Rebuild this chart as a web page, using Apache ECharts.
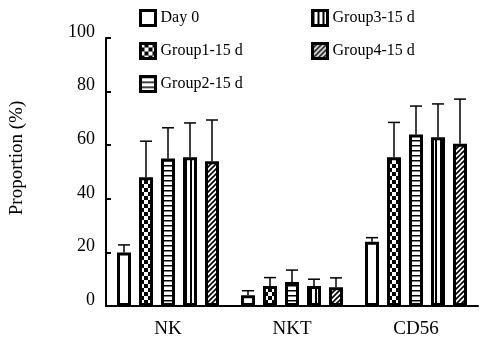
<!DOCTYPE html>
<html><head><meta charset="utf-8">
<script src="https://cdn.jsdelivr.net/npm/echarts@6/dist/echarts.min.js"></script>
<style>html,body{margin:0;padding:0;background:#fff}#c{width:488px;height:342px}</style>
</head><body><div id="c"></div>
<script>
const categories = ['NK', 'NKT', 'CD56'];
const groupNames = ['Day 0', 'Group1-15 d', 'Group2-15 d', 'Group3-15 d', 'Group4-15 d'];
const yTicks = [0, 20, 40, 60, 80, 100];
const day0 = [20, 4, 24];
const day0Err = [2.8, 1.7, 1.5];
const group1 = [48, 7.5, 55.5];
const group1Err = [13.5, 3.1, 13];
const group2 = [55, 9, 64];
const group2Err = [11.5, 4.4, 10.6];
const group3 = [55.5, 7.5, 63];
const group3Err = [12.8, 2.5, 12.4];
const group4 = [54, 7, 60.5];
const group4Err = [15.4, 3.5, 16.7];

const means = [day0, group1, group2, group3, group4];
const errs = [day0Err, group1Err, group2Err, group3Err, group4Err];

function tile(w, h, draw) {
  const c = document.createElement('canvas');
  c.width = w; c.height = h;
  const g = c.getContext('2d');
  g.fillStyle = '#fff'; g.fillRect(0, 0, w, h);
  draw(g, w, h);
  return { image: c, repeat: 'repeat' };
}
const fills = [
  '#fff',
  tile(8, 8, (g) => { g.fillStyle = '#000'; g.fillRect(0, 0, 8, 8); g.fillStyle = '#fff'; g.fillRect(0, 0, 4, 4); g.fillRect(4, 4, 4, 4); }),
  tile(4, 5, (g) => { g.fillStyle = '#000'; g.fillRect(0, 0, 4, 1.5); }),
  tile(5, 4, (g) => { g.fillStyle = '#000'; g.fillRect(0, 0, 2, 4); }),
  tile(5, 5, (g) => {
    g.strokeStyle = '#000'; g.lineWidth = 1.6;
    g.beginPath();
    g.moveTo(-1, 6); g.lineTo(6, -1);
    g.moveTo(-1, 1); g.lineTo(1, -1);
    g.moveTo(4, 6); g.lineTo(6, 4);
    g.stroke();
  })
];

const FONT = "'Liberation Serif', 'Times New Roman', serif";
const BAR_W = 14, PITCH = 22;

const series = [];
groupNames.forEach((name, i) => {
  series.push({
    name: name, type: 'bar', data: means[i],
    barWidth: BAR_W, barGap: ((PITCH - BAR_W) / BAR_W * 100) + '%',
    itemStyle: { color: fills[i], borderColor: '#000', borderWidth: 3 },
    emphasis: { disabled: true }, z: 2
  });
});
groupNames.forEach((name, i) => {
  series.push({
    name: name + ' err', type: 'custom', z: 3,
    data: categories.map((c, k) => [k, means[i][k], errs[i][k]]),
    encode: { x: 0, y: 1 },
    renderItem: function (params, api) {
      const base = api.coord([api.value(0), api.value(1)]);
      const top = api.coord([api.value(0), api.value(1) + api.value(2)]);
      const x = base[0] + (i - 2) * PITCH;
      const st = { stroke: '#000', lineWidth: 1.5 };
      return { type: 'group', children: [
        { type: 'line', shape: { x1: x, y1: base[1], x2: x, y2: top[1] }, style: st },
        { type: 'line', shape: { x1: x - 6, y1: top[1], x2: x + 6, y2: top[1] }, style: st }
      ]};
    }
  });
});

const chart = echarts.init(document.getElementById('c'), null, { renderer: 'canvas' });
const legendCommon = {
  orient: 'vertical', icon: 'rect', itemWidth: 15, itemHeight: 15, itemGap: 15,
  selectedMode: false,
  textStyle: { fontFamily: FONT, fontSize: 16, color: '#000' },
  itemStyle: { borderColor: '#000', borderWidth: 3 }
};
chart.setOption({
  animation: false,
  backgroundColor: '#fff',
  grid: { left: 106, right: 10, top: 38, bottom: 36 },
  legend: [
    Object.assign({ left: 134, top: 4, data: groupNames.slice(0, 3) }, legendCommon),
    Object.assign({ left: 306, top: 4, data: groupNames.slice(3) }, legendCommon)
  ],
  xAxis: {
    type: 'category', data: categories,
    axisLine: { lineStyle: { color: '#000', width: 2 } },
    axisTick: { show: false },
    axisLabel: { fontFamily: FONT, fontSize: 19, color: '#000', margin: 14 }
  },
  yAxis: {
    type: 'value', min: 0, max: 100, interval: 20,
    name: 'Proportion (%)', nameLocation: 'middle', nameGap: 79, nameRotate: 90,
    nameTextStyle: { fontFamily: FONT, fontSize: 19, color: '#000', padding: [0, 0, 0, 28] },
    splitLine: { show: false },
    axisLine: { show: true, lineStyle: { color: '#000', width: 2 } },
    axisTick: { show: true, inside: true, length: 5, lineStyle: { color: '#000', width: 2 } },
    axisLabel: { fontFamily: FONT, fontSize: 18, color: '#000', margin: 11,
      verticalAlign: 'bottom', lineHeight: 12,
      formatter: (v) => yTicks.includes(v) ? String(v) : '' }
  },
  series: series
});
</script></body></html>
